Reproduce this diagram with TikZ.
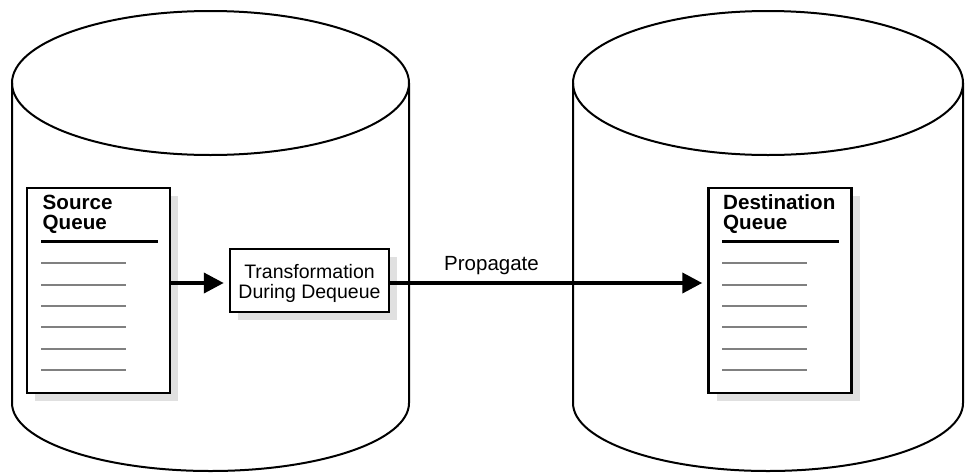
\documentclass[tikz,border=0pt]{standalone}
\usepackage{fontspec}
\setmainfont{Liberation Sans}
\usetikzlibrary{arrows.meta,shadows}
\tikzset{
  cyl/.style={line width=2pt},
  qbox/.style={draw, line width=2.5pt, fill=white, minimum width=143pt, minimum height=205pt, inner sep=0pt,
    drop shadow={shadow xshift=8pt, shadow yshift=-8pt, fill=black!12, opacity=1}},
  tbox/.style={draw, line width=2.5pt, fill=white, minimum width=159pt, minimum height=63pt, inner sep=0pt,
    drop shadow={shadow xshift=8pt, shadow yshift=-8pt, fill=black!12, opacity=1}},
  ttext/.style={anchor=base, inner sep=0pt, align=center, font=\fontsize{19.5}{20.5}\selectfont},
  qtitle/.style={anchor=base west, inner sep=0pt, align=left, font=\fontsize{20.6}{20}\selectfont\bfseries},
  qrule/.style={line width=3pt},
  qline/.style={line width=2pt, draw=black!50},
  flow/.style={line width=4pt, -{Triangle[length=20pt,width=20pt]}, shorten >=5pt},
  lbl/.style={anchor=base, inner sep=0pt, font=\fontsize{20.5}{21}\selectfont}
}
\begin{document}
\begin{tikzpicture}[x=1pt,y=1pt]
\useasboundingbox (0,0) rectangle (965,-474);
% left cylinder
\draw[cyl] (210.5,-83) ellipse [x radius=198.5, y radius=72];
\draw[cyl] (12,-83) -- (12,-403) arc[start angle=180, end angle=360, x radius=198.5, y radius=68] -- (409,-83);
% right cylinder
\draw[cyl] (768,-83) ellipse [x radius=195, y radius=72];
\draw[cyl] (573,-83) -- (573,-403) arc[start angle=180, end angle=360, x radius=195, y radius=68] -- (963,-83);
% source queue
\node[qbox] (src) at (98.5,-290.5) {};
\node[qtitle] (srct) at (42.5,-229.5) {Source\\Queue};
\draw[qrule] (41,-241) -- (158,-241);
\foreach \y in {263,284.5,305.5,327,348.5,370} \draw[qline] (41,-\y) -- (126,-\y);
% destination queue
\node[qbox] (dst) at (780,-290.5) {};
\node[qtitle] (dstt) at (723,-229.5) {Destination\\Queue};
\draw[qrule] (722,-241) -- (839,-241);
\foreach \y in {263,284.5,305.5,327,348.5,370} \draw[qline] (722,-\y) -- (807,-\y);
% transformation
\node[tbox] (tr) at (309.5,-280.5) {};
\node[ttext] (trt) at (309.5,-298.5) {Transformation\\During Dequeue};
% arrows
\coordinate (ay) at (0,-283);
\draw[flow] (src.east |- ay) -- (tr.west |- ay);
\draw[flow] (tr.east |- ay) -- (dst.west |- ay);
\node[lbl] (prop) at (491.5,-270) {Propagate};
\end{tikzpicture}
\end{document}
